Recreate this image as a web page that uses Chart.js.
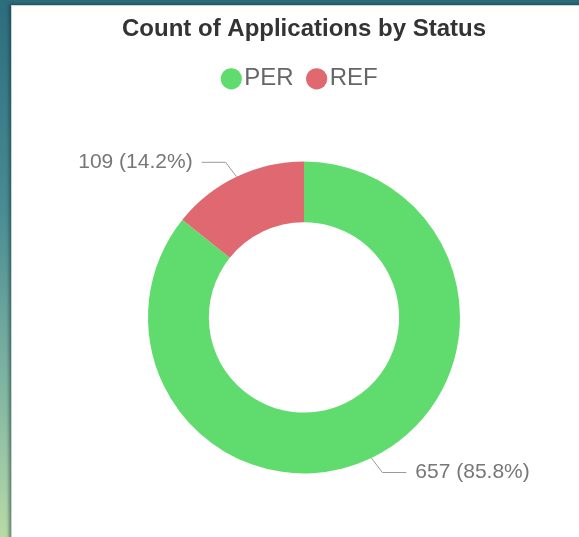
<!DOCTYPE html>
<html>
<head>
<meta charset="utf-8">
<title>Count of Applications by Status</title>
<script src="https://cdn.jsdelivr.net/npm/chart.js@4.4.0/dist/chart.umd.min.js"></script>
<style>
  html, body { margin: 0; width: 579px; height: 537px; overflow: hidden; }
  body {
    position: relative;
    background: linear-gradient(to bottom, #2c6c7d 0%, #4a8d94 40%, #86b9a3 75%, #b8daa7 100%);
  }
  .card {
    position: absolute; left: 11px; top: 5px; width: 600px; height: 560px;
    background: #fff;
    border-top: 1px solid #c9d3d3; border-left: 1px solid #c9d3d3;
    box-shadow: -2px -1px 3px rgba(20, 50, 50, 0.5);
  }
  .chart-box { position: absolute; left: 0; top: 0; width: 584px; height: 532px; }
</style>
</head>
<body>
<div class="card">
  <div class="chart-box"><canvas id="chart"></canvas></div>
</div>
<script>
const statuses = ['PER', 'REF'];
const counts = [657, 109];
const sliceColors = ['#60dc6f', '#e06870'];

Chart.defaults.font.family = "'Liberation Sans', Arial, sans-serif";

// draws "value (pct%)" outside each slice with a bent leader line
const sliceLabels = {
  id: 'sliceLabels',
  afterDatasetsDraw(chart) {
    const { ctx } = chart;
    const meta = chart.getDatasetMeta(0);
    const total = counts.reduce((a, b) => a + b, 0);
    ctx.save();
    ctx.font = "21px 'Liberation Sans', Arial, sans-serif";
    ctx.textBaseline = 'middle';
    meta.data.forEach((arc, i) => {
      const { x, y, startAngle, endAngle, outerRadius } =
        arc.getProps(['x', 'y', 'startAngle', 'endAngle', 'outerRadius'], true);
      const mid = (startAngle + endAngle) / 2;
      const cos = Math.cos(mid), sin = Math.sin(mid);
      const right = cos >= 0;
      const dir = right ? 1 : -1;
      const x1 = x + cos * outerRadius, y1 = y + sin * outerRadius;
      const x2 = x + cos * (outerRadius + 16) + dir * 4, y2 = y + sin * (outerRadius + 16);
      const x3 = x2 + dir * 24;
      ctx.strokeStyle = '#9a9a9a';
      ctx.lineWidth = 1;
      ctx.beginPath();
      ctx.moveTo(x1, y1);
      ctx.lineTo(x2, y2);
      ctx.lineTo(x3, y2);
      ctx.stroke();
      ctx.fillStyle = '#777';
      ctx.textAlign = right ? 'left' : 'right';
      const pct = (counts[i] / total * 100).toFixed(1);
      ctx.fillText(`${counts[i]} (${pct}%)`, x3 + dir * 9, y2);
    });
    ctx.restore();
  }
};

new Chart(document.getElementById('chart'), {
  type: 'doughnut',
  data: {
    labels: statuses,
    datasets: [{
      data: counts,
      backgroundColor: sliceColors,
      borderWidth: 0
    }]
  },
  options: {
    responsive: true,
    maintainAspectRatio: false,
    animation: false,
    radius: 156,
    cutout: '61%',
    layout: { padding: { top: 0, bottom: 4 } },
    plugins: {
      title: {
        display: true,
        text: 'Count of Applications by Status',
        color: '#333',
        font: { size: 24, weight: 'bold' },
        padding: { top: 9, bottom: 1 }
      },
      legend: {
        position: 'top',
        labels: {
          usePointStyle: true,
          pointStyle: 'circle',
          boxWidth: 2,
          boxHeight: 15,
          padding: 22,
          color: '#666',
          font: { size: 24 }
        }
      },
      tooltip: { enabled: false }
    }
  },
  plugins: [sliceLabels]
});
</script>
</body>
</html>
